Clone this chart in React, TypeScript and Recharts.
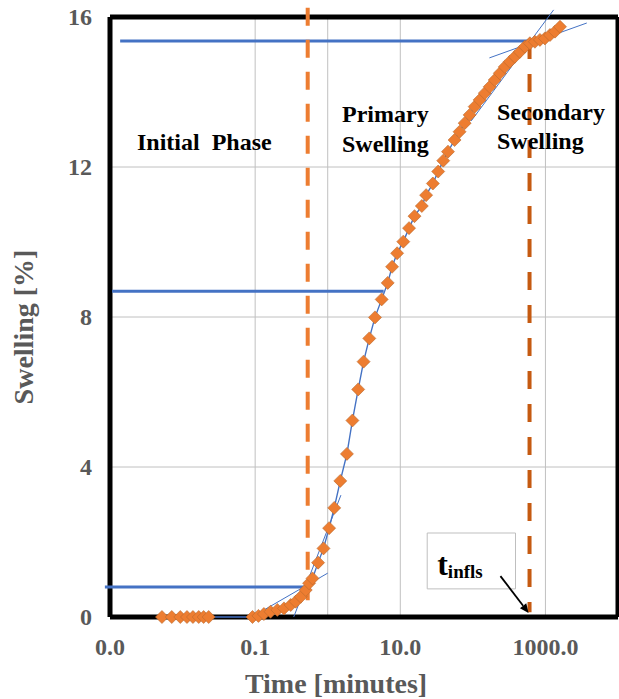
import React from 'react';
import {
  ComposedChart,
  XAxis,
  YAxis,
  CartesianGrid,
  Scatter,
  ReferenceLine,
  ReferenceArea,
  Label,
} from 'recharts';

// swelling test: time in minutes (log axis) vs swelling in %
const timeMin = [
  0.0052, 0.0071, 0.0093, 0.0115, 0.0139, 0.0167, 0.0195, 0.0229,
  0.092, 0.111, 0.132, 0.163, 0.202, 0.25, 0.309, 0.362, 0.425, 0.498, 0.553, 0.617,
  0.737, 0.875, 1.045, 1.23, 1.49, 1.84, 2.19, 2.63, 3.12, 3.74,
  4.48, 5.54, 6.71, 7.71, 9.04, 11.0, 13.2, 15.7, 19.8, 22.7,
  28.1, 33.3, 39.1, 45.4, 56.0, 65.6, 77.1, 90.3, 106, 124,
  146, 171, 200, 235, 275, 323, 379, 444, 521, 611,
  716, 840, 985, 1155, 1355, 1588,
];
const swellingPct = [
  0, 0, 0, 0, 0, 0, 0, 0,
  0, 0.03, 0.08, 0.14, 0.19, 0.23, 0.32, 0.41, 0.54, 0.72, 0.9, 1.03,
  1.45, 1.83, 2.37, 2.91, 3.63, 4.35, 5.24, 6.07, 6.81, 7.43,
  7.99, 8.47, 8.91, 9.34, 9.7, 10.01, 10.37, 10.69, 10.96, 11.25,
  11.56, 11.88, 12.17, 12.41, 12.72, 12.94, 13.17, 13.39, 13.61, 13.79,
  13.97, 14.14, 14.32, 14.5, 14.67, 14.81, 14.94, 15.07, 15.21, 15.3,
  15.34, 15.39, 15.43, 15.52, 15.61, 15.74,
];

const xTicks = [0.001, 0.1, 10, 1000];
const xGrid = [0.1, 1, 10, 1000];
const yTicks = [0, 4, 8, 12, 16];
const xDomain = [0.001, 10000];
const yDomain = [0, 16];

// phase boundaries (intersection of tangents)
const tStartPrimary = 0.53;
const tInflection = 604;

// horizontal levels: swelling value and the time span of the line
const levels = [
  { s: 15.36, from: 0.00138, to: tInflection },
  { s: 8.69, from: 0.00107, to: 5.9 },
  { s: 0.8, from: 0.00085, to: 0.47 },
];

// tangent lines [[t1, s1], [t2, s2]]
const tangents = [
  [[0.09, 0], [1.0, 1.17]],
  [[0.34, 0], [1.52, 3.25]],
  [[169, 14.91], [3715, 15.84]],
  [[95, 13.23], [1297, 16.19]],
];

const data = timeMin.map((t, i) => ({ t, s: swellingPct[i] }));

const serif = '"Liberation Serif", "Times New Roman", serif';
const axisGray = '#595959';
const gridGray = '#c0c0c0';

const Diamond = (props: any) => {
  const { cx, cy } = props;
  const r = 6.5;
  return (
    <polygon
      points={`${cx},${cy - r} ${cx + r},${cy} ${cx},${cy + r} ${cx - r},${cy}`}
      fill="#ED7D31"
      stroke="#B8692F"
      strokeWidth={0.6}
    />
  );
};

const Arrow = (props: any) => {
  const { x1, y1, x2, y2 } = props;
  const a = Math.atan2(y2 - y1, x2 - x1);
  const len = 9;
  const w = 4;
  const bx = x2 - len * Math.cos(a);
  const by = y2 - len * Math.sin(a);
  const p1 = `${bx + w * Math.sin(a)},${by - w * Math.cos(a)}`;
  const p2 = `${bx - w * Math.sin(a)},${by + w * Math.cos(a)}`;
  return (
    <g>
      <line x1={x1} y1={y1} x2={bx} y2={by} stroke="#000" strokeWidth={1.8} />
      <polygon points={`${x2},${y2} ${p1} ${p2}`} fill="#000" />
    </g>
  );
};

const TInflsLabel = (props: any) => {
  const { x, y } = props.viewBox;
  return (
    <text x={x + 10} y={y + 42} fontFamily={serif} fontWeight="bold" fill="#000">
      <tspan fontSize={32}>t</tspan>
      <tspan fontSize={19} dy={3}>infls</tspan>
    </text>
  );
};

const YTick = (props: any) => (
  <text
    x={92}
    y={props.y}
    dy={8}
    textAnchor="end"
    fontFamily={serif}
    fontWeight="bold"
    fontSize={24}
    fill={axisGray}
  >
    {props.payload.value}
  </text>
);

const XTick = (props: any) => (
  <text
    x={props.x}
    y={655}
    textAnchor="middle"
    fontFamily={serif}
    fontWeight="bold"
    fontSize={24}
    fill={axisGray}
  >
    {Number(props.payload.value).toFixed(1)}
  </text>
);

const phaseText = {
  fontFamily: serif,
  fontWeight: 'bold' as const,
  fontSize: 24,
  fill: '#000',
};

export default function App() {
  return (
    <div style={{ position: 'absolute', left: 0, top: 0, width: 619, height: 699, background: '#fff' }}>
      <ComposedChart
        width={619}
        height={699}
        data={data}
        margin={{ top: 17, right: 1, bottom: 0, left: 0 }}
      >
        <CartesianGrid horizontal vertical={false} stroke={gridGray} strokeWidth={1} />
        {xGrid.map((g) => (
          <ReferenceLine key={`g${g}`} x={g} stroke={gridGray} strokeWidth={1} />
        ))}
        <XAxis
          dataKey="t"
          type="number"
          scale="log"
          domain={xDomain}
          ticks={xTicks}
          interval={0}
          axisLine={false}
          tickLine={false}
          height={82}
          tick={<XTick />}
        />
        <YAxis
          dataKey="s"
          type="number"
          domain={yDomain}
          ticks={yTicks}
          interval={0}
          axisLine={false}
          tickLine={false}
          width={110}
          tick={<YTick />}
        />
        {/* plot frame */}
        {yDomain.map((v) => (
          <ReferenceLine key={`fy${v}`} y={v} stroke="#000" strokeWidth={5} ifOverflow="visible" />
        ))}
        {xDomain.map((v) => (
          <ReferenceLine key={`fx${v}`} x={v} stroke="#000" strokeWidth={5} ifOverflow="visible" />
        ))}
        <ReferenceArea
          x1={23.5}
          x2={387}
          y1={0.75}
          y2={2.24}
          fill="#fff"
          fillOpacity={1}
          stroke="#bfbfbf"
          strokeWidth={1}
        >
          <Label content={<TInflsLabel />} />
        </ReferenceArea>
        {levels.map((l) => (
          <ReferenceLine
            key={`l${l.s}`}
            segment={[{ x: l.from, y: l.s }, { x: l.to, y: l.s }]}
            stroke="#4472C4"
            strokeWidth={3}
            ifOverflow="visible"
          />
        ))}
        <ReferenceLine
          segment={[{ x: tStartPrimary, y: 16.25 }, { x: tStartPrimary, y: 0.45 }]}
          stroke="#ED7D31"
          strokeWidth={4}
          strokeDasharray="18 14"
          ifOverflow="visible"
        />
        <ReferenceLine
          segment={[{ x: tInflection, y: 15.36 }, { x: tInflection, y: 0.13 }]}
          stroke="#C55A11"
          strokeWidth={4}
          strokeDasharray="18 15"
          ifOverflow="visible"
        />
        {tangents.map((tg, i) => (
          <ReferenceLine
            key={`tg${i}`}
            segment={[{ x: tg[0][0], y: tg[0][1] }, { x: tg[1][0], y: tg[1][1] }]}
            stroke="#4472C4"
            strokeWidth={1}
            ifOverflow="visible"
          />
        ))}
        <Scatter
          dataKey="s"
          data={data}
          line={{ stroke: '#4472C4', strokeWidth: 1.4 }}
          shape={<Diamond />}
          isAnimationActive={false}
        />
        <ReferenceLine
          segment={[{ x: 240, y: 1.09 }, { x: 586, y: 0.11 }]}
          ifOverflow="visible"
          shape={<Arrow />}
        />
      </ComposedChart>
      <svg
        width={619}
        height={699}
        style={{ position: 'absolute', left: 0, top: 0, pointerEvents: 'none' }}
      >
        <text x={137} y={150} {...phaseText} style={{ whiteSpace: 'pre' }}>
          Initial  Phase
        </text>
        <text x={342} y={122} {...phaseText}>Primary</text>
        <text x={342} y={152} {...phaseText}>Swelling</text>
        <text x={497} y={120} {...phaseText}>Secondary</text>
        <text x={497} y={149} {...phaseText}>Swelling</text>
        <text
          x={336}
          y={693}
          textAnchor="middle"
          fontFamily={serif}
          fontWeight="bold"
          fontSize={28}
          fill={axisGray}
        >
          Time [minutes]
        </text>
        <text
          x={33}
          y={327}
          textAnchor="middle"
          transform="rotate(-90 33 327)"
          fontFamily={serif}
          fontWeight="bold"
          fontSize={28}
          fill={axisGray}
        >
          Swelling [%]
        </text>
      </svg>
    </div>
  );
}
